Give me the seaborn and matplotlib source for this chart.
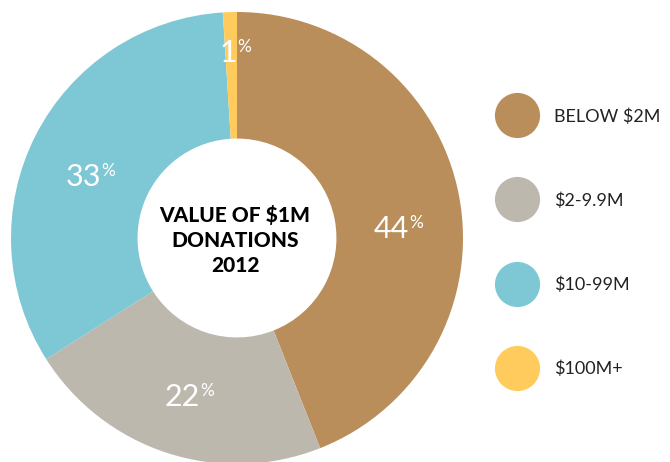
import numpy as np
import matplotlib.pyplot as plt
import seaborn as sns
from matplotlib.lines import Line2D

# data
categories = ['BELOW $2M', '$2-9.9M', '$10-99M', '$100M+']
shares = [44, 22, 33, 1]
colors = ['#BA8E5A', '#BCB8AD', '#7EC8D6', '#FFCB5C']
title_lines = ['VALUE OF $1M', 'DONATIONS', '2012']

sns.set_theme(style='white')
plt.rcParams['font.family'] = ['Lato', 'DejaVu Sans']

W, H = 670, 462
cx, cy, R = 237, 238, 226   # pie centre / radius in pixels

fig = plt.figure(figsize=(W / 100, H / 100), dpi=100)
ax = fig.add_axes([0, 0, 1, 1])

wedges, _ = ax.pie(shares, colors=colors, startangle=90, counterclock=False,
                   radius=1, wedgeprops=dict(width=0.56, edgecolor='none'))

# pie() resets the limits, so set them afterwards
ax.set_xlim(-cx / R, (W - cx) / R)
ax.set_ylim(-(H - cy) / R, cy / R)
ax.set_aspect('equal', adjustable='box')
ax.axis('off')

# percentage labels (junction between number and % sign, in pixels)
label_px = [(409, 229), (200, 397), (101, 177), (237, 53)]
for val, (px, py) in zip(shares, label_px):
    x, y = (px - cx) / R, (cy - py) / R
    ax.text(x, y, str(val), color='white', fontsize=22, ha='right', va='center')
    ax.annotate('%', (x, y), xytext=(0.5, 4.5), textcoords='offset points',
                color='white', fontsize=12.5, ha='left', va='center')

# centre title
ax.text((235 - cx) / R, (cy - 240) / R, '\n'.join(title_lines), fontsize=15,
        fontweight='black', ha='center', va='center', linespacing=1.35,
        color='black')

handles = [Line2D([], [], marker='o', linestyle='none', markersize=32.5,
                  markerfacecolor=c, markeredgecolor='none') for c in colors]
leg = ax.legend(handles, categories, loc='upper left',
                bbox_to_anchor=(499 / W, 1 - 108 / H), frameon=False,
                fontsize=13, handlelength=2, handletextpad=1.05,
                labelspacing=3.75, borderpad=0, borderaxespad=0)
for t in leg.get_texts():
    t.set_color('#222222')

fig.savefig('out.png', dpi=100)
